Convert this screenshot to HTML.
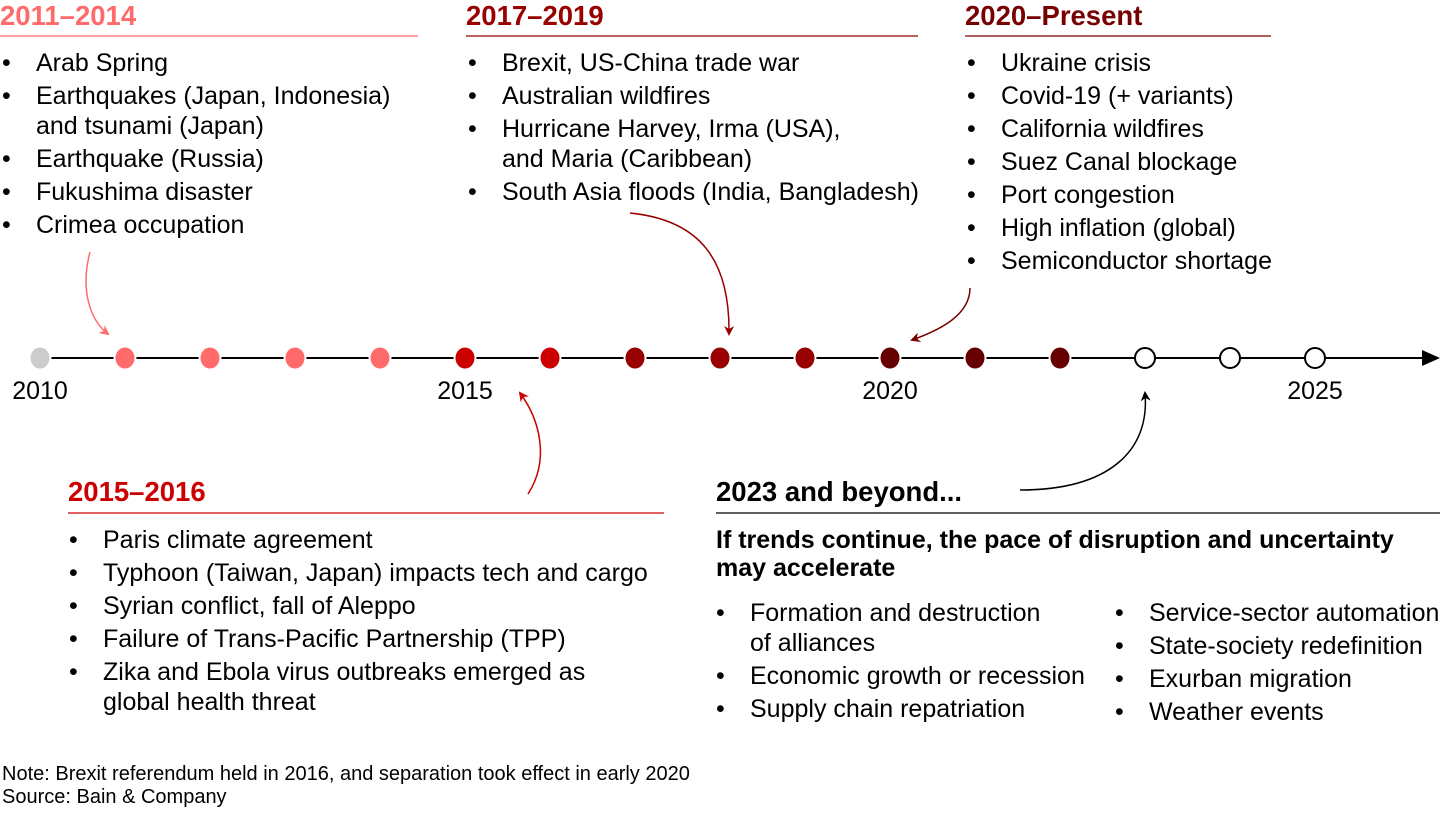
<!DOCTYPE html>
<html><head><meta charset="utf-8"><style>
body{margin:0;background:#fff;}
svg text{font-family:"Liberation Sans",Arial,sans-serif;}
</style></head><body>
<svg width="1440" height="810" viewBox="0 0 1440 810" xmlns="http://www.w3.org/2000/svg">
<defs>
<marker id="ap" markerWidth="10" markerHeight="10" refX="8" refY="5" orient="auto" markerUnits="userSpaceOnUse"><path d="M0,0 L10,5 L0,10 L3,5z" fill="#ff6b6b"/></marker>
<marker id="ar" markerWidth="10" markerHeight="10" refX="8" refY="5" orient="auto" markerUnits="userSpaceOnUse"><path d="M0,0 L10,5 L0,10 L3,5z" fill="#cc0000"/></marker>
<marker id="ad" markerWidth="10" markerHeight="10" refX="8" refY="5" orient="auto" markerUnits="userSpaceOnUse"><path d="M0,0 L10,5 L0,10 L3,5z" fill="#990000"/></marker>
<marker id="ae" markerWidth="10" markerHeight="10" refX="8" refY="5" orient="auto" markerUnits="userSpaceOnUse"><path d="M0,0 L10,5 L0,10 L3,5z" fill="#770000"/></marker>
<marker id="ak" markerWidth="10" markerHeight="10" refX="8" refY="5" orient="auto" markerUnits="userSpaceOnUse"><path d="M0,0 L10,5 L0,10 L3,5z" fill="#000"/></marker>
</defs>
<line x1="40" y1="358" x2="1428" y2="358" stroke="#000" stroke-width="2"/>
<path d="M1422,350 L1440,358 L1422,366z" fill="#000"/>
<g stroke="#fff" stroke-width="2">
<ellipse cx="40" cy="358" rx="10.5" ry="11.5" fill="#cccccc"/>
<ellipse cx="125" cy="358" rx="10.5" ry="11.5" fill="#ff6b6b"/>
<ellipse cx="210" cy="358" rx="10.5" ry="11.5" fill="#ff6b6b"/>
<ellipse cx="295" cy="358" rx="10.5" ry="11.5" fill="#ff6b6b"/>
<ellipse cx="380" cy="358" rx="10.5" ry="11.5" fill="#ff6b6b"/>
<ellipse cx="465" cy="358" rx="10.5" ry="11.5" fill="#cc0000"/>
<ellipse cx="550" cy="358" rx="10.5" ry="11.5" fill="#cc0000"/>
<ellipse cx="635" cy="358" rx="10.5" ry="11.5" fill="#990000"/>
<ellipse cx="720" cy="358" rx="10.5" ry="11.5" fill="#990000"/>
<ellipse cx="805" cy="358" rx="10.5" ry="11.5" fill="#990000"/>
<ellipse cx="890" cy="358" rx="10.5" ry="11.5" fill="#660000"/>
<ellipse cx="975" cy="358" rx="10.5" ry="11.5" fill="#660000"/>
<ellipse cx="1060" cy="358" rx="10.5" ry="11.5" fill="#660000"/>
</g>
<g stroke="#000" stroke-width="2" fill="#fff">
<circle cx="1145" cy="358" r="10"/><circle cx="1230" cy="358" r="10"/><circle cx="1315" cy="358" r="10"/>
</g>
<g font-size="25" fill="#000" text-anchor="middle">
<text x="40" y="399">2010</text><text x="465" y="399">2015</text><text x="890" y="399">2020</text><text x="1315" y="399">2025</text>
</g>
<path d="M90,252 C80,290 90,320 108,334" fill="none" stroke="#ff6b6b" stroke-width="1.5" marker-end="url(#ap)"/>
<path d="M528,494 C550,460 540,420 520,393" fill="none" stroke="#cc0000" stroke-width="1.5" marker-end="url(#ar)"/>
<path d="M630,213 C700,220 730,260 729,334" fill="none" stroke="#990000" stroke-width="1.5" marker-end="url(#ad)"/>
<path d="M970,288 C970,315 940,330 912,340" fill="none" stroke="#770000" stroke-width="1.5" marker-end="url(#ae)"/>
<path d="M1020,490 C1110,490 1150,450 1145,393" fill="none" stroke="#000" stroke-width="1.5" marker-end="url(#ak)"/>
<g font-size="27.5" font-weight="bold">
<text x="0" y="25" fill="#ff6b6b">2011–2014</text>
<text x="466" y="25" fill="#990000">2017–2019</text>
<text x="965" y="25" fill="#770000">2020–Present</text>
<text x="68" y="501" fill="#cc0000">2015–2016</text>
<text x="716" y="501" fill="#000">2023 and beyond...</text>
</g>
<line x1="0" y1="36" x2="418" y2="36" stroke="#ff6b6b" stroke-width="1.3"/>
<line x1="466" y1="36" x2="918" y2="36" stroke="#990000" stroke-width="1.3"/>
<line x1="965" y1="36" x2="1271" y2="36" stroke="#770000" stroke-width="1.3"/>
<line x1="68" y1="513" x2="664" y2="513" stroke="#cc0000" stroke-width="1.3"/>
<line x1="716" y1="513" x2="1440" y2="513" stroke="#000" stroke-width="1.3"/>
<g font-size="25" fill="#000">
<text x="2" y="71">•</text><text x="36" y="71">Arab Spring</text>
<text x="2" y="104">•</text><text x="36" y="104">Earthquakes (Japan, Indonesia)</text>
<text x="36" y="134">and tsunami (Japan)</text>
<text x="2" y="167">•</text><text x="36" y="167">Earthquake (Russia)</text>
<text x="2" y="200">•</text><text x="36" y="200">Fukushima disaster</text>
<text x="2" y="233">•</text><text x="36" y="233">Crimea occupation</text>

<text x="468" y="71">•</text><text x="502" y="71">Brexit, US-China trade war</text>
<text x="468" y="104">•</text><text x="502" y="104">Australian wildfires</text>
<text x="468" y="137">•</text><text x="502" y="137">Hurricane Harvey, Irma (USA),</text>
<text x="502" y="167">and Maria (Caribbean)</text>
<text x="468" y="200">•</text><text x="502" y="200">South Asia floods (India, Bangladesh)</text>

<text x="967" y="71">•</text><text x="1001" y="71">Ukraine crisis</text>
<text x="967" y="104">•</text><text x="1001" y="104">Covid-19 (+ variants)</text>
<text x="967" y="137">•</text><text x="1001" y="137">California wildfires</text>
<text x="967" y="170">•</text><text x="1001" y="170">Suez Canal blockage</text>
<text x="967" y="203">•</text><text x="1001" y="203">Port congestion</text>
<text x="967" y="236">•</text><text x="1001" y="236">High inflation (global)</text>
<text x="967" y="269">•</text><text x="1001" y="269">Semiconductor shortage</text>

<text x="69" y="548">•</text><text x="103" y="548">Paris climate agreement</text>
<text x="69" y="581">•</text><text x="103" y="581">Typhoon (Taiwan, Japan) impacts tech and cargo</text>
<text x="69" y="614">•</text><text x="103" y="614">Syrian conflict, fall of Aleppo</text>
<text x="69" y="647">•</text><text x="103" y="647">Failure of Trans-Pacific Partnership (TPP)</text>
<text x="69" y="680">•</text><text x="103" y="680">Zika and Ebola virus outbreaks emerged as</text>
<text x="103" y="710">global health threat</text>

<text x="716" y="548" font-weight="bold">If trends continue, the pace of disruption and uncertainty</text>
<text x="716" y="576" font-weight="bold">may accelerate</text>
<text x="716" y="621">•</text><text x="750" y="621">Formation and destruction</text>
<text x="750" y="651">of alliances</text>
<text x="716" y="684">•</text><text x="750" y="684">Economic growth or recession</text>
<text x="716" y="717">•</text><text x="750" y="717">Supply chain repatriation</text>
<text x="1115" y="621">•</text><text x="1149" y="621">Service-sector automation</text>
<text x="1115" y="654">•</text><text x="1149" y="654">State-society redefinition</text>
<text x="1115" y="687">•</text><text x="1149" y="687">Exurban migration</text>
<text x="1115" y="720">•</text><text x="1149" y="720">Weather events</text>
</g>
<g font-size="20" fill="#000">
<text x="2" y="780">Note: Brexit referendum held in 2016, and separation took effect in early 2020</text>
<text x="2" y="803">Source: Bain &amp; Company</text>
</g>
</svg>
</body></html>
